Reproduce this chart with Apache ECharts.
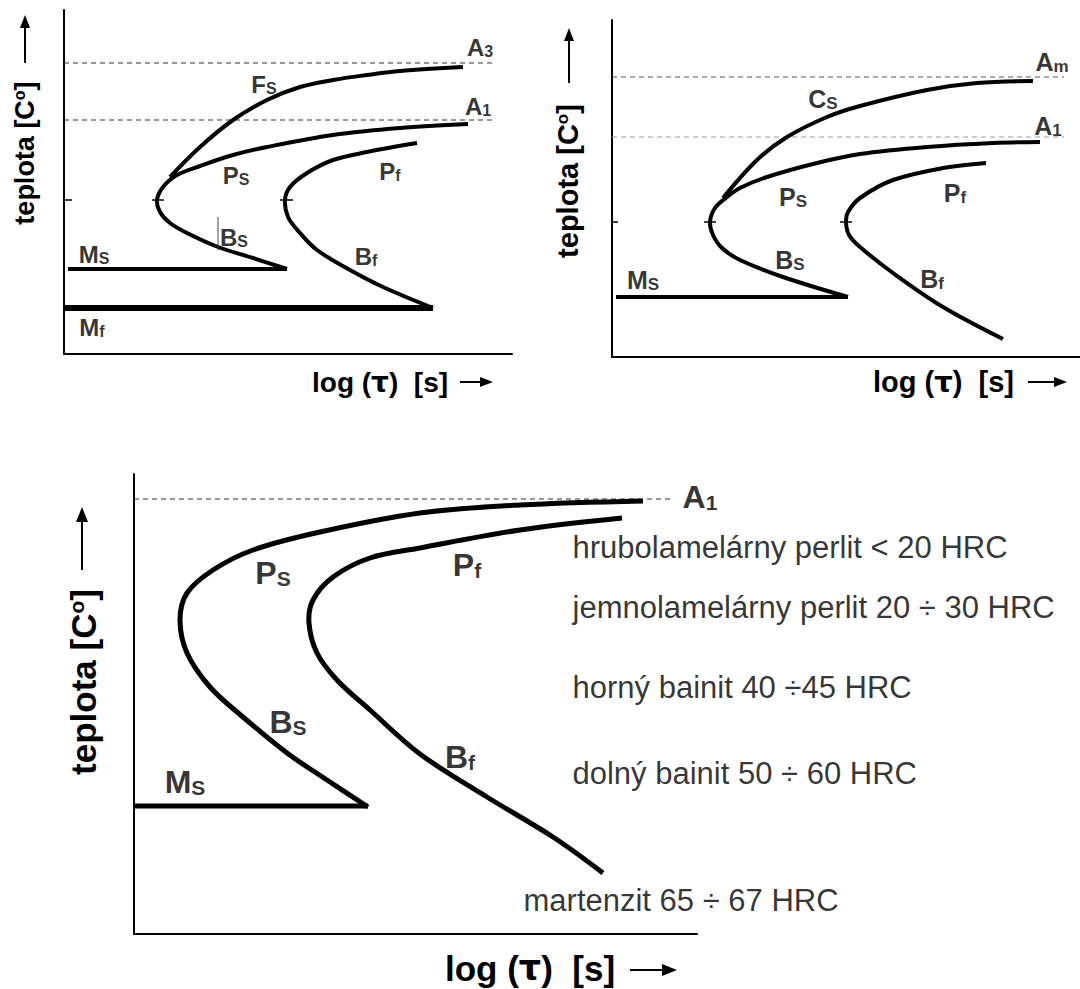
<!DOCTYPE html>
<html><head><meta charset="utf-8">
<script src="https://cdn.jsdelivr.net/npm/echarts@6/dist/echarts.min.js"></script>
<style>html,body{margin:0;padding:0;background:#fff}#c{width:1080px;height:989px}</style>
</head><body><div id="c"></div><script>
// ---------- data (arbitrary units: x = log(time), y = temperature) ----------
// Top-left diagram (hypoeutectoid steel)
const tlFs   = [[106,177],[136,207],[169,234],[203,254],[236,267],[269,274],[303,279],[336,283],[399,287]];
const tlPsBs = [[404,230],[336,226],[269,219],[203,207],[169,199],[136,188],[113,179],[99,167],[93,154],[96,142],[106,131],[123,121],[154,107],[189,96],[223,85]];
const tlMs   = [[4,85],[223,85]];
const tlPfBf = [[353,211],[303,202],[269,194],[243,181],[226,167],[221,154],[224,137],[236,121],[253,104],[286,84],[319,67],[369,46]];
const tlMf   = [[0,46],[369,46]];
const tlA3   = [[0,291],[429,291]];
const tlA1   = [[0,234],[429,234]];
const tlNoseTemp = 154;
const tlNoseX = [93,221];
const tlLabels = [['A','3',416,307],['A','1',414,248],['F','S',200,270],['P','S',172,179],['P','f',326,183],['B','S',170,117],['B','f',302,98],['M','S',30,100],['M','f',28,27]];

// Top-right diagram (hypereutectoid steel)
const trCs   = [[111,159],[145,197],[175,220],[215,240],[248,251],[315,267],[365,274],[421,276]];
const trPsBs = [[428,215],[381,214],[315,210],[248,203],[205,194],[155,180],[128,169],[115,160],[103,149],[98,135],[101,122],[110,109],[128,97],[171,80],[236,60]];
const trMs   = [[4,60],[236,60]];
const trPfBf = [[374,194],[331,189],[281,177],[248,159],[236,145],[234,135],[237,122],[248,110],[281,84],[331,50],[391,18]];
const trAm   = [[0,280],[452,280]];
const trA1   = [[0,220],[452,220]];
const trNoseTemp = 135;
const trNoseX = [98,234];
const trLabels = [['A','m',440,295],['A','1',436,231],['C','S',211,258],['P','S',181,160],['P','f',343,164],['B','S',178,97],['B','f',320,78],['M','S',31,77]];

// Bottom diagram (eutectoid steel)
const btPsBs = [[509,433],[386,429],[286,421],[186,402],[119,384],[79,364],[53,341],[46,314],[53,281],[76,247],[109,217],[153,181],[193,154],[234,127]];
const btMs   = [[0,128],[234,128]];
const btPfBf = [[488,416],[386,404],[286,386],[236,376],[199,357],[179,334],[175,311],[183,281],[203,254],[236,224],[286,180],[353,137],[419,97],[469,61]];
const btA1   = [[0,435],[539,435]];
const btLabels = [['A','1',566,437],['P','S',139,361],['P','f',333,369],['B','S',154,212],['B','f',326,177],['M','S',51,152]];
const btNotes = [
  ['hrubolamelárny perlit < 20 HRC',438,387],
  ['jemnolamelárny perlit 20 ÷ 30 HRC',438,327],
  ['horný bainit 40 ÷45 HRC',438,247],
  ['dolný bainit 50 ÷ 60 HRC',438,161],
  ['martenzit 65 ÷ 67 HRC',389,34]
];
const yTitle = 'teplota [C';
const xTitleParts = ['log (', 'τ', ')  [s]'];

// ---------- layout ----------
const FONT = '"Liberation Sans", Arial, Helvetica, sans-serif';
const grids = [
  {left:64,  top:10,  width:448, height:344},
  {left:612, top:20,  width:468, height:337},
  {left:134, top:474, width:563, height:460}
];

const chart = echarts.init(document.getElementById('c'), null, {renderer:'svg'});

function axis(i, max){
  return {gridIndex:i, type:'value', min:0, max:max,
    axisLine:{show:true, onZero:false, lineStyle:{color:'#000', width:2}},
    axisTick:{show:false}, axisLabel:{show:false}, splitLine:{show:false}};
}
function straight(data, gi, width){
  return {type:'line', xAxisIndex:gi, yAxisIndex:gi, data:data, symbol:'none',
    clip:false, silent:true, z:3,
    lineStyle:{color:'#000', width:width, join:'round', cap:'butt'}};
}
function curve(data, gi, width){
  return {type:'custom', xAxisIndex:gi, yAxisIndex:gi, data:data, silent:true, z:3, clip:false,
    encode:{x:0, y:1},
    renderItem:function(params, api){
      if (params.dataIndex !== 0) return null;
      const pts = data.map(d => api.coord(d));
      return {type:'polyline', shape:{points:pts, smooth:0.35},
        style:{stroke:'#000', lineWidth:width, fill:'none', lineJoin:'round'}};
    }};
}
function dashed(data, gi, color){
  return {type:'line', xAxisIndex:gi, yAxisIndex:gi, data:data, symbol:'none', clip:false, silent:true, z:2,
    lineStyle:{color:color, width:1, type:[5,4]}};
}
function tick(x0, x1, y, gi, w){
  return {type:'line', xAxisIndex:gi, yAxisIndex:gi, data:[[x0,y],[x1,y]], symbol:'none', clip:false, silent:true, z:4,
    lineStyle:{color:'#000', width:w}};
}
function labels(list, gi, mSize, sSize, sLH){
  return {type:'scatter', xAxisIndex:gi, yAxisIndex:gi, symbolSize:1, clip:false, silent:true, z:5,
    itemStyle:{color:'rgba(0,0,0,0)'},
    data:list.map(l=>({value:[l[2],l[3]], main:l[0], sub:l[1]})),
    label:{show:true, position:'inside', color:'#000', textBorderWidth:0, textBorderColor:'transparent',
      formatter:p=>'{m|'+p.data.main+'}{s|'+p.data.sub+'}',
      rich:{
        m:{fontFamily:FONT, fontWeight:'bold', fontSize:mSize, lineHeight:mSize, color:'#000', verticalAlign:'bottom'},
        s:{fontFamily:FONT, fontWeight:'bold', fontSize:sSize, lineHeight:sLH, color:'#000', verticalAlign:'bottom'}
      }}};
}

const series = [
  // top-left
  dashed(tlA3,0,'#333'), dashed(tlA1,0,'#333'),
  curve(tlFs,0,4), curve(tlPsBs,0,4), straight(tlMs,0,4),
  curve(tlPfBf,0,4), straight(tlMf,0,6),
  tick(-5,8,tlNoseTemp,0,1.5), tick(tlNoseX[0]-5,tlNoseX[0]+7,tlNoseTemp,0,1.5), tick(tlNoseX[1]-5,tlNoseX[1]+8,tlNoseTemp,0,1.5),
  {type:'line', xAxisIndex:0, yAxisIndex:0, data:[[154,104],[154,137]], symbol:'none', clip:false, silent:true, z:4, lineStyle:{color:'#444', width:1}},
  labels(tlLabels,0,24,16,12),
  // top-right
  dashed(trAm,1,'#555'), dashed(trA1,1,'#999'),
  curve(trCs,1,4), curve(trPsBs,1,4), straight(trMs,1,4), curve(trPfBf,1,4),
  tick(-5,6,trNoseTemp,1,1.5), tick(trNoseX[0]-6,trNoseX[0]+6,trNoseTemp,1,1.5), tick(trNoseX[1]-6,trNoseX[1]+6,trNoseTemp,1,1.5),
  labels(trLabels,1,25,17,13),
  // bottom
  dashed(btA1,2,'#333'),
  curve(btPsBs,2,5), straight(btMs,2,5), curve(btPfBf,2,5),
  labels(btLabels,2,32,21,17),
  {type:'scatter', xAxisIndex:2, yAxisIndex:2, symbolSize:1, clip:false, silent:true, z:5,
    itemStyle:{color:'rgba(0,0,0,0)'},
    data:btNotes.map(n=>({name:n[0], value:[n[1],n[2]]})),
    label:{show:true, position:'right', distance:0, formatter:'{b}',
      fontFamily:FONT, fontSize:31, color:'#000', textBorderWidth:0}}
];

function arrowUp(x, yTail, yTip, hl, hw){
  return [
    {type:'line', shape:{x1:x, y1:yTail, x2:x, y2:yTip+hl-1}, style:{stroke:'#000', lineWidth:2}},
    {type:'polygon', shape:{points:[[x,yTip],[x-hw/2,yTip+hl],[x+hw/2,yTip+hl]]}, style:{fill:'#000'}}
  ];
}
function arrowRight(y, xTail, xTip, hl, hw){
  return [
    {type:'line', shape:{x1:xTail, y1:y, x2:xTip-hl+1, y2:y}, style:{stroke:'#000', lineWidth:2}},
    {type:'polygon', shape:{points:[[xTip,y],[xTip-hl,y-hw/2],[xTip-hl,y+hw/2]]}, style:{fill:'#000'}}
  ];
}
function yTitleEl(x, y, size){
  return {type:'text', x:x, y:y, rotation:Math.PI/2, silent:true,
    style:{text:'{a|'+yTitle+'}{o|o}{a|]}', align:'center', verticalAlign:'middle',
      rich:{a:{fontFamily:FONT, fontWeight:'bold', fontSize:size, lineHeight:size, fill:'#000'},
            o:{fontFamily:FONT, fontWeight:'bold', fontSize:Math.round(size*0.6), lineHeight:Math.round(size*0.45), verticalAlign:'top', fill:'#000'}}}};
}
function xTitleEl(x, y, size){
  return {type:'text', x:x, y:y, silent:true,
    style:{text:'{a|'+xTitleParts[0]+'}{t|'+xTitleParts[1]+'}{a|'+xTitleParts[2]+'}', align:'left', verticalAlign:'middle',
      rich:{a:{fontFamily:FONT, fontWeight:'bold', fontSize:size, lineHeight:size, fill:'#000'},
            t:{fontFamily:'"DejaVu Sans", sans-serif', fontWeight:'bold', fontSize:size, lineHeight:size, fill:'#000'}}}};
}

const graphic = [].concat(
  [yTitleEl(25,153,27), xTitleEl(312,382,28)], arrowUp(25,63,15,13,10), arrowRight(382,460,493,13,10),
  [yTitleEl(568,181,29), xTitleEl(873,382,29)], arrowUp(569,83,28,13,10), arrowRight(382,1028,1067,13,10),
  [yTitleEl(83,682,35), xTitleEl(445,968,35)], arrowUp(82,570,507,15,12), arrowRight(970,630,677,15,12)
);

chart.setOption({
  animation:false,
  backgroundColor:'#fff',
  grid:grids.map(g=>Object.assign({containLabel:false}, g)),
  xAxis:grids.map((g,i)=>axis(i,g.width)),
  yAxis:grids.map((g,i)=>axis(i,g.height)),
  series:series,
  graphic:graphic
});
</script></body></html>
